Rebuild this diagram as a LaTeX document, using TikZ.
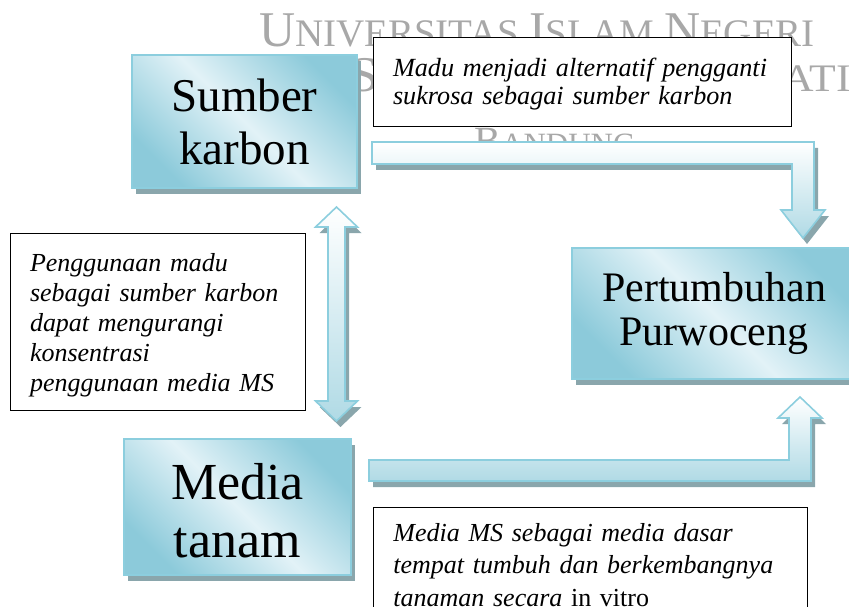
\documentclass[tikz,border=0pt]{standalone}
\usepackage{fontspec}
\setmainfont{Liberation Serif}
\usetikzlibrary{shadows}
\definecolor{boxdark}{RGB}{140,202,218}
\definecolor{boxlight}{RGB}{226,242,247}
\definecolor{edgeblue}{RGB}{140,206,222}
\definecolor{shadowgray}{RGB}{138,166,172}
\definecolor{arrowblue}{RGB}{176,218,229}
\definecolor{wmgray}{RGB}{168,168,168}
\newcommand\wmbig[1]{{\fontsize{50}{50}\selectfont #1}}
\newcommand\wmsmall[1]{{\fontsize{39}{39}\selectfont #1}}
\tikzset{
  bluebox/.style={draw=edgeblue, line width=1.5pt, top color=boxdark, bottom color=boxdark,
    middle color=boxlight, shading angle=-45, align=center, inner sep=0pt,
    drop shadow={shadow xshift=4pt, shadow yshift=-6pt, fill=shadowgray, opacity=1}},
  notebox/.style={draw=black, line width=0.9pt, fill=white, align=left, inner ysep=0pt,
    inner xsep=20pt},
  fatarrow/.style={draw=edgeblue, line width=1.6pt, top color=white, bottom color=arrowblue,
    line join=miter,
    drop shadow={shadow xshift=4pt, shadow yshift=-6pt, fill=shadowgray, opacity=1}},
  wm/.style={text=wmgray, inner sep=0pt, font=\fontsize{39}{39}\selectfont},
}
\begin{document}
\hyphenpenalty=10000
\begin{tikzpicture}[x=1pt,y=-1pt]
\useasboundingbox (0,0) rectangle (849,607);
% watermark
\node[wm, anchor=base] (wm1) at (537,47) {\wmbig{U}\wmsmall{NIVERSITAS} \wmbig{I}\wmsmall{SLAM} \wmbig{N}\wmsmall{EGERI}};
\node[wm, anchor=base east, xscale=1.12] (wm2) at (851,92) {\wmbig{S}\wmsmall{UNAN} \wmbig{G}\wmsmall{UNUNG} \wmbig{D}\wmsmall{JATI}};
\node[wm, anchor=base, font=\fontsize{31}{31}\selectfont] (wm3) at (555,154)
  {{\fontsize{40}{40}\selectfont B}ANDUNG};
% fat arrows
\path[fatarrow] (372,142) -- (814,142) -- (814,210) -- (825,210) -- (803,238) -- (781,210)
  -- (792,210) -- (792,164) -- (372,164) -- cycle;
\path[fatarrow] (369,460) -- (789,460) -- (789,418) -- (778,418) -- (800,397) -- (822,418)
  -- (811,418) -- (811,481) -- (369,481) -- cycle;
\path[fatarrow] (336.5,207) -- (357.5,227) -- (345,227) -- (345,401) -- (357.5,401)
  -- (336.5,421) -- (315.5,401) -- (328,401) -- (328,227) -- (315.5,227) -- cycle;
% main boxes
\node[bluebox, minimum width=225pt, minimum height=133pt, font=\fontsize{47}{53}\selectfont]
  (sumber) at (244.5,121.5) {Sumber\\karbon};
\node[bluebox, minimum width=227pt, minimum height=136pt, font=\fontsize{52}{58}\selectfont]
  (media) at (237.5,507) {\rule{0pt}{44pt}Media\\tanam};
\node[bluebox, minimum width=284pt, minimum height=131pt, font=\fontsize{42}{44}\selectfont]
  (pertumbuhan) at (714,313.5) {Pertumbuhan\\Purwoceng};
% note boxes
\node[notebox, text width=378pt, minimum height=89pt, font=\itshape\fontsize{26.2}{28}\selectfont]
  (note1) at (582,81.5)
  {\rule{0pt}{24pt}Madu menjadi alternatif pengganti\\sukrosa sebagai sumber karbon};
\node[notebox, text width=255pt, minimum height=177pt, font=\itshape\fontsize{26}{30}\selectfont]
  (note2) at (157.5,321.5)
  {\rule{0pt}{26pt}Penggunaan madu\\sebagai sumber karbon\\dapat mengurangi\\konsentrasi\\penggunaan media MS};
\node[notebox, text width=394pt, anchor=north west, inner ysep=4pt, minimum height=115pt,
  font=\itshape\fontsize{26}{32.5}\selectfont] (note3) at (373,507)
  {Media MS sebagai media dasar\\tempat tumbuh dan berkembangnya\\tanaman secara \textup{in vitro}};
\end{tikzpicture}
\end{document}
